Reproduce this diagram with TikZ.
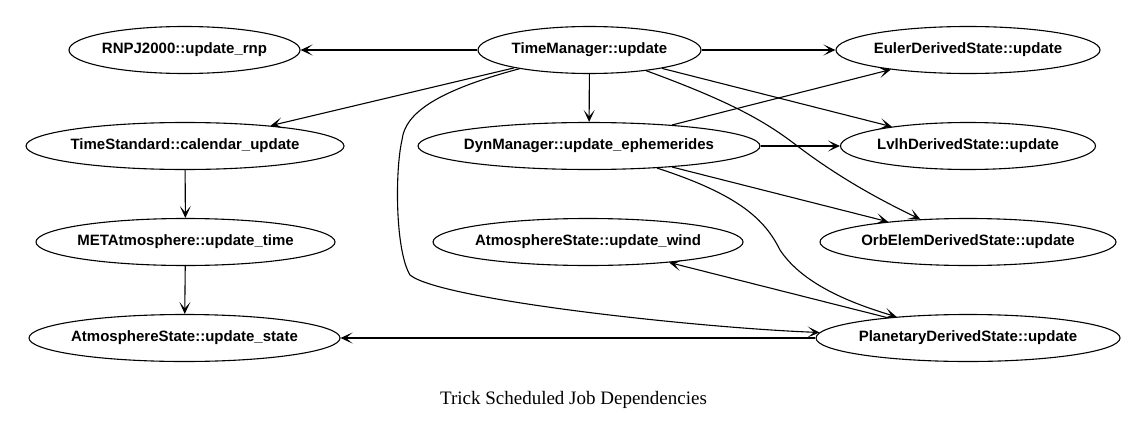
\documentclass[tikz,border=0pt]{standalone}
\usepackage{fontspec}
\setmainfont{Liberation Serif}
\newfontfamily\labelfont{Liberation Sans}
\usetikzlibrary{shapes.geometric,arrows.meta}
\tikzset{
  job/.style={ellipse, draw, line width=1.1pt, inner sep=0pt, minimum height=47pt,
    font=\labelfont\fontsize{15}{17}\selectfont\bfseries},
  dep/.style={line width=1.1pt, -{Stealth[length=12pt,width=11pt,inset=6.5pt]}},
}
\newcommand{\lbl}[1]{\makebox[0pt]{#1}}
\begin{document}
\begin{tikzpicture}[x=1pt,y=-1pt]
\useasboundingbox (0,0) rectangle (1147,420);
% row 1
\node[job, minimum width=231pt] (rnp) at (184.5,50) {\lbl{RNPJ2000::update\_rnp}};
\node[job, minimum width=223pt] (tm) at (589.5,50) {\lbl{TimeManager::update}};
\node[job, minimum width=264pt] (euler) at (968,50) {\lbl{EulerDerivedState::update}};
% row 2
\node[job, minimum width=318pt] (ts) at (185,146) {\lbl{TimeStandard::calendar\_update}};
\node[job, minimum width=342pt] (dyn) at (589,146) {\lbl{DynManager::update\_ephemerides}};
\node[job, minimum width=255pt] (lvlh) at (968,146) {\lbl{LvlhDerivedState::update}};
% row 3
\node[job, minimum width=299pt] (met) at (185.5,242) {\lbl{METAtmosphere::update\_time}};
\node[job, minimum width=310pt] (wind) at (588,242) {\lbl{AtmosphereState::update\_wind}};
\node[job, minimum width=296pt] (orb) at (968,242) {\lbl{OrbElemDerivedState::update}};
% row 4
\node[job, minimum width=311pt] (state) at (184.5,338) {\lbl{AtmosphereState::update\_state}};
\node[job, minimum width=304pt] (pl) at (968,338) {\lbl{PlanetaryDerivedState::update}};
% caption
\node[anchor=base, inner sep=0pt, font=\fontsize{19}{22}\selectfont] (cap) at (573.5,404) {Trick Scheduled Job Dependencies};
% edges
\draw[dep] (tm) -- (rnp);
\draw[dep] (tm) -- (euler);
\draw[dep] (tm) -- (dyn);
\draw[dep] (tm) -- (ts);
\draw[dep] (tm) -- (lvlh);
\draw[dep] (tm) .. controls (740,105) and (770,125) .. (800,148)
  .. controls (840,178) and (880,200) .. (orb);
\draw[dep] (tm) .. controls (440,90) and (405,112) .. (402,140)
  .. controls (395,170) and (395,250) .. (410,275)
  .. controls (440,300) and (700,328) .. (pl);
\draw[dep] (dyn) -- (euler);
\draw[dep] (dyn) -- (lvlh);
\draw[dep] (dyn) -- (orb);
\draw[dep] (dyn) .. controls (740,195) and (765,220) .. (780,250)
  .. controls (800,280) and (840,300) .. (pl);
\draw[dep] (pl) -- (wind);
\draw[dep] (pl) -- (state);
\draw[dep] (ts) -- (met);
\draw[dep] (met) -- (state);
\end{tikzpicture}
\end{document}
